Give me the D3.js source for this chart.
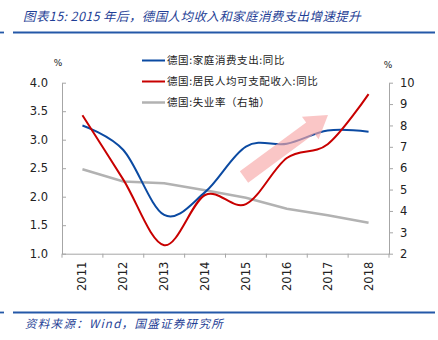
<!DOCTYPE html>
<html><head><meta charset="utf-8">
<script src="https://cdn.jsdelivr.net/npm/d3@7"></script>
<style>body{margin:0;background:#fff}svg{display:block}</style>
</head><body>
<script>
const years = ["2011","2012","2013","2014","2015","2016","2017","2018"];
const consumption = [3.25, 2.82, 1.68, 2.08, 2.88, 2.93, 3.16, 3.14];
const income = [3.43, 2.30, 1.15, 2.03, 1.87, 2.68, 2.92, 3.80];
const unemployment = [5.95, 5.38, 5.30, 4.97, 4.62, 4.10, 3.80, 3.45];
const leftTicks = [1.0,1.5,2.0,2.5,3.0,3.5,4.0];
const rightTicks = [2,3,4,5,6,7,8,9,10];
const legendNames = ["德国:家庭消费支出:同比","德国:居民人均可支配收入:同比","德国:失业率（右轴）"];
const title = "图表15:  2015 年后，德国人均收入和家庭消费支出增速提升";
const source = "资料来源：Wind，国盛证券研究所";

const W=438,H=340;
const svg=d3.select("body").append("svg").attr("width",W).attr("height",H);
const L=62,R=389,T=82.7,B=253.7;
const x=d3.scaleBand().domain(years).range([L,R]).padding(0);
const yL=d3.scaleLinear().domain([1,4]).range([B,T]);
const yR=d3.scaleLinear().domain([2,10]).range([B,T]);
const blue="#0b4aa2", titleBlue="#1f3f96", lineBlue="#2458a8";
const axisCol="#a6a6a6";
const numFont="'DejaVu Sans', Verdana, sans-serif";
const cjk="'Noto Sans CJK SC', sans-serif";

// title
svg.append("text").attr("x",23).attr("y",21).attr("fill",titleBlue)
  .attr("font-family",cjk).attr("font-size",12.5).attr("font-style","italic").attr("letter-spacing",0.4).text(title);
svg.append("line").attr("x1",0).attr("x2",4).attr("y1",32.5).attr("y2",32.5).attr("stroke",lineBlue).attr("stroke-width",1.8);
svg.append("line").attr("x1",13).attr("x2",435).attr("y1",32.5).attr("y2",32.5).attr("stroke",lineBlue).attr("stroke-width",1.8);
svg.append("line").attr("x1",0).attr("x2",4).attr("y1",312.5).attr("y2",312.5).attr("stroke",lineBlue).attr("stroke-width",1.8);
svg.append("line").attr("x1",13).attr("x2",435).attr("y1",312.5).attr("y2",312.5).attr("stroke",lineBlue).attr("stroke-width",1.8);
svg.append("text").attr("x",25).attr("y",328).attr("fill",titleBlue)
  .attr("font-family",cjk).attr("font-size",11.5).attr("font-style","italic").attr("letter-spacing",1.3).text(source);

// axes
const gl=svg.append("g").attr("transform",`translate(${L},0)`)
  .call(d3.axisLeft(yL).tickValues(leftTicks).tickFormat(d3.format(".1f")).tickSizeInner(-4).tickSizeOuter(0).tickPadding(14));
const gr=svg.append("g").attr("transform",`translate(${R},0)`)
  .call(d3.axisRight(yR).tickValues(rightTicks).tickFormat(d3.format("d")).tickSizeInner(4).tickSizeOuter(0).tickPadding(7));
const gx=svg.append("g").attr("transform",`translate(0,${B})`)
  .call(d3.axisBottom(x).tickSize(0).tickPadding(0));
[gl,gr,gx].forEach(g=>{
  g.selectAll("path.domain").attr("stroke",axisCol);
  g.selectAll(".tick line").attr("stroke",axisCol);
  g.selectAll("text").attr("font-family",numFont).attr("font-size",11.5).attr("fill","#222");
});
gx.selectAll("text").attr("transform","rotate(-90)").attr("text-anchor","end")
  .attr("dy","0.35em").attr("x",-8).attr("y",0);
// category boundary ticks
const bounds=years.map(d=>x(d)).concat([R]);
svg.append("g").selectAll("line").data(bounds).join("line")
  .attr("x1",d=>d).attr("x2",d=>d).attr("y1",B).attr("y2",B+4).attr("stroke",axisCol);

svg.append("text").attr("x",58).attr("y",66).attr("text-anchor","middle").attr("font-family",numFont).attr("font-size",9).attr("fill","#222").text("%");
svg.append("text").attr("x",388).attr("y",68).attr("text-anchor","middle").attr("font-family",numFont).attr("font-size",9).attr("fill","#222").text("%");

const cx=d=>x(d)+x.bandwidth()/2;
// unemployment
svg.append("path").datum(unemployment).attr("fill","none").attr("stroke","#b2b2b2").attr("stroke-width",2.5)
  .attr("d",d3.line().x((d,i)=>cx(years[i])).y(d=>yR(d)));
svg.append("path").datum(consumption).attr("fill","none").attr("stroke",blue).attr("stroke-width",2)
  .attr("d",d3.line().x((d,i)=>cx(years[i])).y(d=>yL(d)).curve(d3.curveCardinal.tension(0)));
svg.append("path").datum(income).attr("fill","none").attr("stroke","#c80000").attr("stroke-width",2)
  .attr("d",d3.line().x((d,i)=>cx(years[i])).y(d=>yL(d)).curve(d3.curveCardinal.tension(0)));

// pink arrow (annotation)
const ax0=[244,177], ax1=[328,115];
const ang=Math.atan2(ax1[1]-ax0[1],ax1[0]-ax0[0]);
const len=Math.hypot(ax1[0]-ax0[0],ax1[1]-ax0[1]);
const sw=7, hw=14, hl=22;
const pts=[[0,-sw],[len-hl,-sw],[len-hl,-hw],[len,0],[len-hl,hw],[len-hl,sw],[0,sw]];
svg.append("polygon").attr("points",pts.map(p=>p.join(",")).join(" "))
  .attr("transform",`translate(${ax0[0]},${ax0[1]}) rotate(${ang*180/Math.PI})`)
  .attr("fill","#f8a8a8").attr("opacity",0.65);

// legend
const lc=[blue,"#c80000","#b2b2b2"];
const ly=[60.5,81.5,102.5];
legendNames.forEach((n,i)=>{
  svg.append("line").attr("x1",142).attr("x2",165).attr("y1",ly[i]).attr("y2",ly[i]).attr("stroke",lc[i]).attr("stroke-width",i==2?2.5:2);
  svg.append("text").attr("x",167).attr("y",ly[i]).attr("dy","0.35em").attr("font-family",cjk).attr("font-size",10.5).attr("letter-spacing",0.6).attr("fill","#222").text(n);
});
</script>
</body></html>
